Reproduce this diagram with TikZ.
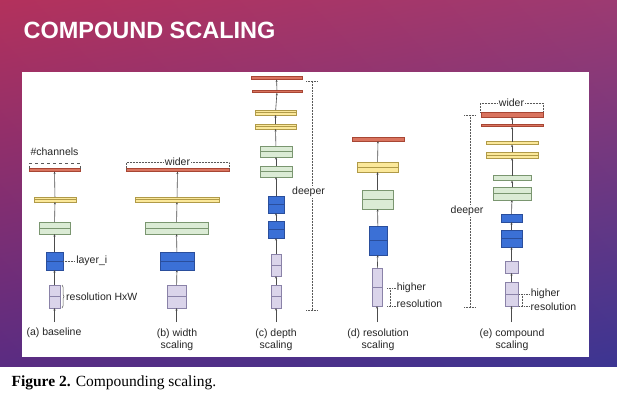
\documentclass[tikz,border=0pt]{standalone}
\usepackage{fontspec}
\setmainfont{Liberation Serif}
\setsansfont{Liberation Sans}
\usetikzlibrary{arrows.meta, positioning, decorations.pathreplacing, shadings}
\definecolor{slideA}{HTML}{B3315C}
\definecolor{slideB}{HTML}{9C3A72}
\definecolor{slideC}{HTML}{5A2C82}
\definecolor{slideD}{HTML}{3C3592}
\definecolor{redF}{HTML}{D9745F}\definecolor{redD}{HTML}{A84634}
\definecolor{yelF}{HTML}{FBE89A}\definecolor{yelD}{HTML}{B09A48}
\definecolor{grnF}{HTML}{DBEBD5}\definecolor{grnD}{HTML}{7A9670}
\definecolor{bluF}{HTML}{3B70D6}\definecolor{bluD}{HTML}{2A4E9C}
\definecolor{lavF}{HTML}{DAD4EA}\definecolor{lavD}{HTML}{8A82A8}
\tikzset{
  blk/.style n args={2}{draw=#2, fill=#1, line width=0.6pt, inner sep=0pt, outer sep=0pt,
    path picture={\draw[#2, line width=0.6pt] (path picture bounding box.west) -- (path picture bounding box.east);}},
  bar/.style n args={2}{draw=#2, fill=#1, line width=0.6pt, inner sep=0pt, outer sep=0pt},
  arr/.style={-{Stealth[length=2.5pt,width=2pt]}, gray!60!black, line width=0.6pt},
  dots/.style={densely dotted, gray!70!black, line width=0.5pt},
  lbl/.style={font=\sffamily\fontsize{10.5}{12}\selectfont, text=black!85, inner sep=1pt},
  subcap/.style={lbl, align=center}
}
\begin{document}
\begin{tikzpicture}[x=1pt, y=-1pt]
\useasboundingbox (0,0) rectangle (617,409);
\fill[white] (0,0) rectangle (617,409);
% slide background
\shade[upper left=slideA, upper right=slideB, lower left=slideC, lower right=slideD] (0,0) rectangle (617,366);
\node[anchor=west, text=white, font=\sffamily\bfseries\fontsize{23.5}{26}\selectfont] (title) at (20,30) {COMPOUND SCALING};
\fill[white] (22,72) rectangle (589,357);

% (a) baseline
\node[bar={redF}{redD}, minimum width=51pt, minimum height=3pt] (a1) at (54.5,170) {};
\node[blk={yelF}{yelD}, minimum width=42pt, minimum height=5pt] (a2) at (55,199.5) {};
\node[blk={grnF}{grnD}, minimum width=31pt, minimum height=12pt] (a3) at (54.5,228) {};
\node[blk={bluF}{bluD}, minimum width=17pt, minimum height=18pt] (a4) at (54.5,261) {};
\node[blk={lavF}{lavD}, minimum width=11pt, minimum height=23pt] (a5) at (54.5,296.5) {};
\coordinate (a0) at (54.5,322);
\draw[dashed, gray!70!black] (29,169) -- (29,163) -- (80,163) -- (80,169);
\node[lbl, fill=white] (ach) at (54.5,152) {\#channels};
\draw[dots] (a4.east) -- ++(12,0) node[lbl, right] (alay) {layer\_i};
\draw[gray!70!black, line width=0.5pt, decorate, decoration={brace, amplitude=2pt}] (a5.north east) ++(2,0) -- ++(0,23) coordinate (abr);
\node[lbl, right] (ares) at (65,297) {resolution HxW};
\node[subcap] (acap) at (54,333) {(a) baseline};

% (b) width scaling
\node[bar={redF}{redD}, minimum width=103pt, minimum height=3pt] (b1) at (177.5,170) {};
\node[blk={yelF}{yelD}, minimum width=84pt, minimum height=5pt] (b2) at (177,199.5) {};
\node[blk={grnF}{grnD}, minimum width=63pt, minimum height=12pt] (b3) at (176.5,228) {};
\node[blk={bluF}{bluD}, minimum width=34pt, minimum height=18pt] (b4) at (177,261) {};
\node[blk={lavF}{lavD}, minimum width=19pt, minimum height=23pt] (b5) at (176.5,296.5) {};
\coordinate (b0) at (176.5,322);
\draw[dots] (126,169) -- (126,162) -- (229,162) -- (229,169);
\node[lbl, fill=white] (bw) at (177.5,162) {wider};
\node[subcap] (bcap) at (177,340) {(b) width\\scaling};

% (c) depth scaling
\node[bar={redF}{redD}, minimum width=51pt, minimum height=3pt] (c1) at (276.5,78) {};
\node[bar={redF}{redD}, minimum width=50pt, minimum height=2.5pt] (c2) at (277,91.5) {};
\node[blk={yelF}{yelD}, minimum width=41pt, minimum height=5pt] (c3) at (275.5,112.5) {};
\node[blk={yelF}{yelD}, minimum width=41pt, minimum height=5pt] (c4) at (275.5,126.5) {};
\node[blk={grnF}{grnD}, minimum width=32pt, minimum height=11pt] (c5) at (276,151.5) {};
\node[blk={grnF}{grnD}, minimum width=32pt, minimum height=11pt] (c6) at (276,171.5) {};
\node[blk={bluF}{bluD}, minimum width=16pt, minimum height=17pt] (c7) at (276,204.5) {};
\node[blk={bluF}{bluD}, minimum width=16pt, minimum height=17pt] (c8) at (276,229.5) {};
\node[blk={lavF}{lavD}, minimum width=10pt, minimum height=22pt] (c9) at (276,265) {};
\node[blk={lavF}{lavD}, minimum width=10pt, minimum height=23pt] (c10) at (276,296.5) {};
\coordinate (c0) at (276,322);
\draw[dots] (306,81) -- (318,81) (312,81) -- (312,310) (306,310) -- (318,310);
\node[lbl, fill=white, anchor=west] (cd) at (291,192) {deeper};
\node[subcap] (ccap) at (276,340) {(c) depth\\scaling};

% (d) resolution scaling
\node[bar={redF}{redD}, minimum width=52pt, minimum height=4pt] (d1) at (378,139) {};
\node[blk={yelF}{yelD}, minimum width=41pt, minimum height=10pt] (d2) at (377.5,167) {};
\node[blk={grnF}{grnD}, minimum width=31pt, minimum height=19pt] (d3) at (377.5,199.5) {};
\node[blk={bluF}{bluD}, minimum width=18pt, minimum height=29pt] (d4) at (378,240.5) {};
\node[blk={lavF}{lavD}, minimum width=10pt, minimum height=38pt] (d5) at (377,287) {};
\coordinate (d0) at (377,322);
\draw[dots] (387,288) -- (392,288) (390,288) -- (390,306) (387,306) -- (392,306);
\draw[dots] (392,288) -- (396,288) node[lbl, right, inner sep=0.5pt] (dh) {higher};
\draw[dots] (392,306) -- (396,306);
\node[lbl, right, inner sep=0.5pt] (dr) at (396,304) {resolution};
\node[subcap] (dcap) at (378,340) {(d) resolution\\scaling};

% (e) compound scaling
\node[bar={redF}{redD}, minimum width=62pt, minimum height=4.5pt] (e1) at (512,115) {};
\node[bar={redF}{redD}, minimum width=62pt, minimum height=2.5pt] (e2) at (512,125.5) {};
\node[bar={yelF}{yelD}, minimum width=52pt, minimum height=3pt] (e3) at (512,143) {};
\node[blk={yelF}{yelD}, minimum width=52pt, minimum height=6pt] (e4) at (512,155) {};
\node[bar={grnF}{grnD}, minimum width=38pt, minimum height=5pt] (e5) at (512,178) {};
\node[blk={grnF}{grnD}, minimum width=38pt, minimum height=13pt] (e6) at (512,193.5) {};
\node[bar={bluF}{bluD}, minimum width=21pt, minimum height=8pt] (e7) at (511.5,218) {};
\node[blk={bluF}{bluD}, minimum width=21pt, minimum height=17pt] (e8) at (511.5,238.5) {};
\node[bar={lavF}{lavD}, minimum width=13pt, minimum height=12pt] (e9) at (511.5,267) {};
\node[blk={lavF}{lavD}, minimum width=13pt, minimum height=24pt] (e10) at (511.5,294) {};
\coordinate (e0) at (511.5,322);
\draw[dots] (480,112) -- (480,103) -- (543,103) -- (543,112);
\node[lbl, fill=white] (ew) at (511.5,103) {wider};
\draw[dots] (464,115) -- (476,115) (470,115) -- (470,307) (464,307) -- (476,307);
\node[lbl, fill=white] (ed) at (467,211) {deeper};
\draw[dots] (519,294) -- (524,294) (522,294) -- (522,306) (519,306) -- (524,306);
\draw[dots] (524,294) -- (530,294) node[lbl, right, inner sep=0.5pt] (eh) {higher};
\draw[dots] (524,306) -- (530,306);
\node[lbl, right, inner sep=0.5pt] (er) at (530,307) {resolution};
\node[subcap] (ecap) at (512,340) {(e) compound\\scaling};

% connectors
\foreach \u/\v in {a0/a5,a5/a4,a4/a3,a3/a2,a2/a1,
                   b0/b5,b5/b4,b4/b3,b3/b2,b2/b1,
                   c0/c10,c10/c9,c9/c8,c8/c7,c7/c6,c6/c5,c5/c4,c4/c3,c3/c2,c2/c1,
                   d0/d5,d5/d4,d4/d3,d3/d2,d2/d1,
                   e0/e10,e10/e9,e9/e8,e8/e7,e7/e6,e6/e5,e5/e4,e4/e3,e3/e2,e2/e1}
  \draw[arr] (\u) -- (\v);

\node[anchor=west, font=\fontsize{15.5}{18}\selectfont] (fig) at (8,383) {\textbf{Figure 2.} Compounding scaling.};
\end{tikzpicture}
\end{document}
